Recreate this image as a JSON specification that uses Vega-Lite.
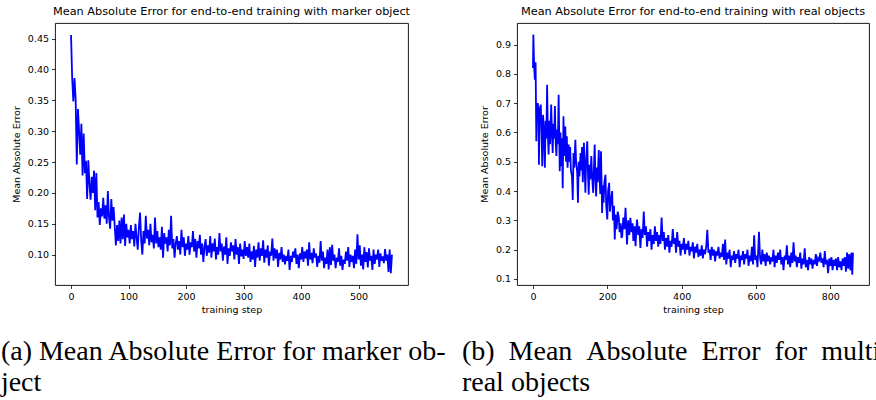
{
  "$schema": "https://vega.github.io/schema/vega-lite/v6.json",
  "padding": {"left": 0, "top": 5, "right": 0, "bottom": 0},
  "background": "white",
  "config": {
    "view": {"stroke": "#000000", "strokeWidth": 0.9},
    "axis": {"domain": false, "grid": false, "ticks": true, "tickColor": "#000000", "tickSize": 3.5, "tickWidth": 0.8, "labelFont": "DejaVu Sans", "labelFontSize": 9.5, "labelColor": "#000000", "labelPadding": 3, "titleFont": "DejaVu Sans", "titleFontSize": 9.5, "titleFontWeight": "normal", "titleColor": "#000000"},
    "axisY": {"titlePadding": 6},
    "axisX": {"titlePadding": 3},
    "title": {"font": "DejaVu Sans", "fontSize": 11.3, "fontWeight": "normal", "color": "#000000"}
  },
  "datasets": {
    "a": [
      {"step":0,"mae":0.456},{"step":2,"mae":0.385},{"step":4,"mae":0.348},{"step":6,"mae":0.386},{"step":8,"mae":0.352},{"step":10,"mae":0.246},{"step":12,"mae":0.336},{"step":14,"mae":0.300},{"step":16,"mae":0.262},{"step":18,"mae":0.312},
      {"step":20,"mae":0.228},{"step":22,"mae":0.296},{"step":24,"mae":0.232},{"step":26,"mae":0.252},{"step":28,"mae":0.190},{"step":30,"mae":0.253},{"step":32,"mae":0.215},{"step":34,"mae":0.189},{"step":36,"mae":0.226},{"step":38,"mae":0.200},
      {"step":40,"mae":0.236},{"step":42,"mae":0.172},{"step":44,"mae":0.232},{"step":46,"mae":0.160},{"step":48,"mae":0.185},{"step":50,"mae":0.148},{"step":52,"mae":0.175},{"step":54,"mae":0.162},{"step":56,"mae":0.192},{"step":58,"mae":0.158},
      {"step":60,"mae":0.180},{"step":62,"mae":0.150},{"step":64,"mae":0.203},{"step":66,"mae":0.160},{"step":68,"mae":0.142},{"step":70,"mae":0.190},{"step":72,"mae":0.155},{"step":74,"mae":0.177},{"step":76,"mae":0.145},{"step":78,"mae":0.115},
      {"step":80,"mae":0.148},{"step":82,"mae":0.122},{"step":84,"mae":0.155},{"step":86,"mae":0.118},{"step":88,"mae":0.160},{"step":90,"mae":0.125},{"step":92,"mae":0.165},{"step":94,"mae":0.114},{"step":96,"mae":0.150},{"step":98,"mae":0.128},
      {"step":100,"mae":0.140},{"step":102,"mae":0.118},{"step":104,"mae":0.148},{"step":106,"mae":0.125},{"step":108,"mae":0.138},{"step":110,"mae":0.113},{"step":112,"mae":0.150},{"step":114,"mae":0.128},{"step":116,"mae":0.108},{"step":118,"mae":0.145},
      {"step":120,"mae":0.168},{"step":122,"mae":0.122},{"step":124,"mae":0.100},{"step":126,"mae":0.138},{"step":128,"mae":0.118},{"step":130,"mae":0.163},{"step":132,"mae":0.126},{"step":134,"mae":0.140},{"step":136,"mae":0.115},{"step":138,"mae":0.150},
      {"step":140,"mae":0.120},{"step":142,"mae":0.132},{"step":144,"mae":0.110},{"step":146,"mae":0.160},{"step":148,"mae":0.118},{"step":150,"mae":0.138},{"step":152,"mae":0.112},{"step":154,"mae":0.128},{"step":156,"mae":0.108},{"step":158,"mae":0.145},
      {"step":160,"mae":0.095},{"step":162,"mae":0.135},{"step":164,"mae":0.118},{"step":166,"mae":0.128},{"step":168,"mae":0.105},{"step":170,"mae":0.140},{"step":172,"mae":0.115},{"step":174,"mae":0.163},{"step":176,"mae":0.110},{"step":178,"mae":0.125},
      {"step":180,"mae":0.095},{"step":182,"mae":0.118},{"step":184,"mae":0.130},{"step":186,"mae":0.108},{"step":188,"mae":0.122},{"step":190,"mae":0.100},{"step":192,"mae":0.140},{"step":194,"mae":0.112},{"step":196,"mae":0.128},{"step":198,"mae":0.098},
      {"step":200,"mae":0.118},{"step":202,"mae":0.108},{"step":204,"mae":0.130},{"step":206,"mae":0.100},{"step":208,"mae":0.120},{"step":210,"mae":0.112},{"step":212,"mae":0.138},{"step":214,"mae":0.105},{"step":216,"mae":0.125},{"step":218,"mae":0.095},
      {"step":220,"mae":0.122},{"step":222,"mae":0.110},{"step":224,"mae":0.132},{"step":226,"mae":0.100},{"step":228,"mae":0.118},{"step":230,"mae":0.088},{"step":232,"mae":0.112},{"step":234,"mae":0.125},{"step":236,"mae":0.098},{"step":238,"mae":0.115},
      {"step":240,"mae":0.103},{"step":242,"mae":0.130},{"step":244,"mae":0.095},{"step":246,"mae":0.118},{"step":248,"mae":0.105},{"step":250,"mae":0.126},{"step":252,"mae":0.092},{"step":254,"mae":0.112},{"step":256,"mae":0.100},{"step":258,"mae":0.135},
      {"step":260,"mae":0.105},{"step":262,"mae":0.118},{"step":264,"mae":0.090},{"step":266,"mae":0.113},{"step":268,"mae":0.100},{"step":270,"mae":0.128},{"step":272,"mae":0.085},{"step":274,"mae":0.110},{"step":276,"mae":0.098},{"step":278,"mae":0.120},
      {"step":280,"mae":0.105},{"step":282,"mae":0.115},{"step":284,"mae":0.092},{"step":286,"mae":0.125},{"step":288,"mae":0.100},{"step":290,"mae":0.112},{"step":292,"mae":0.085},{"step":294,"mae":0.118},{"step":296,"mae":0.097},{"step":298,"mae":0.108},
      {"step":300,"mae":0.093},{"step":302,"mae":0.122},{"step":304,"mae":0.098},{"step":306,"mae":0.112},{"step":308,"mae":0.095},{"step":310,"mae":0.118},{"step":312,"mae":0.088},{"step":314,"mae":0.105},{"step":316,"mae":0.092},{"step":318,"mae":0.114},
      {"step":320,"mae":0.080},{"step":322,"mae":0.108},{"step":324,"mae":0.095},{"step":326,"mae":0.120},{"step":328,"mae":0.090},{"step":330,"mae":0.110},{"step":332,"mae":0.098},{"step":334,"mae":0.123},{"step":336,"mae":0.087},{"step":338,"mae":0.108},
      {"step":340,"mae":0.095},{"step":342,"mae":0.115},{"step":344,"mae":0.082},{"step":346,"mae":0.105},{"step":348,"mae":0.098},{"step":350,"mae":0.126},{"step":352,"mae":0.090},{"step":354,"mae":0.110},{"step":356,"mae":0.094},{"step":358,"mae":0.108},
      {"step":360,"mae":0.080},{"step":362,"mae":0.103},{"step":364,"mae":0.092},{"step":366,"mae":0.112},{"step":368,"mae":0.088},{"step":370,"mae":0.100},{"step":372,"mae":0.084},{"step":374,"mae":0.098},{"step":376,"mae":0.090},{"step":378,"mae":0.108},
      {"step":380,"mae":0.075},{"step":382,"mae":0.098},{"step":384,"mae":0.088},{"step":386,"mae":0.105},{"step":388,"mae":0.095},{"step":390,"mae":0.110},{"step":392,"mae":0.085},{"step":394,"mae":0.100},{"step":396,"mae":0.078},{"step":398,"mae":0.102},
      {"step":400,"mae":0.092},{"step":402,"mae":0.112},{"step":404,"mae":0.088},{"step":406,"mae":0.105},{"step":408,"mae":0.094},{"step":410,"mae":0.108},{"step":412,"mae":0.082},{"step":414,"mae":0.120},{"step":416,"mae":0.092},{"step":418,"mae":0.103},
      {"step":420,"mae":0.086},{"step":422,"mae":0.110},{"step":424,"mae":0.095},{"step":426,"mae":0.102},{"step":428,"mae":0.080},{"step":430,"mae":0.098},{"step":432,"mae":0.087},{"step":434,"mae":0.122},{"step":436,"mae":0.090},{"step":438,"mae":0.105},
      {"step":440,"mae":0.078},{"step":442,"mae":0.095},{"step":444,"mae":0.085},{"step":446,"mae":0.108},{"step":448,"mae":0.076},{"step":450,"mae":0.112},{"step":452,"mae":0.083},{"step":454,"mae":0.116},{"step":456,"mae":0.090},{"step":458,"mae":0.100},
      {"step":460,"mae":0.078},{"step":462,"mae":0.095},{"step":464,"mae":0.088},{"step":466,"mae":0.110},{"step":468,"mae":0.082},{"step":470,"mae":0.098},{"step":472,"mae":0.075},{"step":474,"mae":0.092},{"step":476,"mae":0.085},{"step":478,"mae":0.105},
      {"step":480,"mae":0.090},{"step":482,"mae":0.112},{"step":484,"mae":0.080},{"step":486,"mae":0.100},{"step":488,"mae":0.088},{"step":490,"mae":0.098},{"step":492,"mae":0.078},{"step":494,"mae":0.108},{"step":496,"mae":0.085},{"step":498,"mae":0.133},
      {"step":500,"mae":0.092},{"step":502,"mae":0.115},{"step":504,"mae":0.082},{"step":506,"mae":0.100},{"step":508,"mae":0.076},{"step":510,"mae":0.112},{"step":512,"mae":0.088},{"step":514,"mae":0.104},{"step":516,"mae":0.079},{"step":518,"mae":0.110},
      {"step":520,"mae":0.090},{"step":522,"mae":0.098},{"step":524,"mae":0.075},{"step":526,"mae":0.108},{"step":528,"mae":0.085},{"step":530,"mae":0.100},{"step":532,"mae":0.092},{"step":534,"mae":0.108},{"step":536,"mae":0.080},{"step":538,"mae":0.102},
      {"step":540,"mae":0.090},{"step":542,"mae":0.097},{"step":544,"mae":0.086},{"step":546,"mae":0.109},{"step":548,"mae":0.090},{"step":550,"mae":0.100},{"step":552,"mae":0.072},{"step":554,"mae":0.108},{"step":556,"mae":0.070},{"step":558,"mae":0.100}
    ],
    "b": [
      {"step":0,"mae":0.82},{"step":1,"mae":0.934},{"step":3,"mae":0.83},{"step":5,"mae":0.78},{"step":7,"mae":0.84},{"step":9,"mae":0.57},{"step":11,"mae":0.69},{"step":13,"mae":0.70},{"step":15,"mae":0.66},{"step":16,"mae":0.49},
      {"step":18,"mae":0.68},{"step":21,"mae":0.695},{"step":23,"mae":0.60},{"step":25,"mae":0.485},{"step":27,"mae":0.66},{"step":29,"mae":0.62},{"step":32,"mae":0.48},{"step":34,"mae":0.64},{"step":36,"mae":0.58},{"step":38,"mae":0.763},
      {"step":40,"mae":0.60},{"step":42,"mae":0.525},{"step":44,"mae":0.64},{"step":46,"mae":0.56},{"step":49,"mae":0.695},{"step":51,"mae":0.60},{"step":53,"mae":0.53},{"step":55,"mae":0.63},{"step":57,"mae":0.58},{"step":59,"mae":0.69},
      {"step":61,"mae":0.57},{"step":63,"mae":0.52},{"step":65,"mae":0.61},{"step":67,"mae":0.56},{"step":69,"mae":0.729},{"step":72,"mae":0.468},{"step":74,"mae":0.60},{"step":76,"mae":0.485},{"step":78,"mae":0.58},{"step":80,"mae":0.41},
      {"step":82,"mae":0.655},{"step":84,"mae":0.52},{"step":87,"mae":0.62},{"step":89,"mae":0.50},{"step":91,"mae":0.587},{"step":93,"mae":0.48},{"step":96,"mae":0.559},{"step":98,"mae":0.50},{"step":100,"mae":0.55},{"step":102,"mae":0.47},
      {"step":105,"mae":0.45},{"step":107,"mae":0.37},{"step":109,"mae":0.53},{"step":111,"mae":0.48},{"step":114,"mae":0.575},{"step":116,"mae":0.50},{"step":119,"mae":0.462},{"step":121,"mae":0.36},{"step":123,"mae":0.50},{"step":125,"mae":0.45},
      {"step":128,"mae":0.53},{"step":130,"mae":0.47},{"step":132,"mae":0.55},{"step":134,"mae":0.43},{"step":137,"mae":0.565},{"step":139,"mae":0.48},{"step":141,"mae":0.394},{"step":143,"mae":0.50},{"step":146,"mae":0.57},{"step":148,"mae":0.46},
      {"step":150,"mae":0.388},{"step":152,"mae":0.49},{"step":154,"mae":0.44},{"step":157,"mae":0.52},{"step":159,"mae":0.45},{"step":162,"mae":0.394},{"step":164,"mae":0.48},{"step":166,"mae":0.559},{"step":168,"mae":0.44},{"step":170,"mae":0.382},
      {"step":172,"mae":0.48},{"step":174,"mae":0.43},{"step":177,"mae":0.54},{"step":179,"mae":0.45},{"step":181,"mae":0.39},{"step":183,"mae":0.536},{"step":186,"mae":0.325},{"step":188,"mae":0.42},{"step":190,"mae":0.36},{"step":192,"mae":0.43},
      {"step":195,"mae":0.456},{"step":197,"mae":0.35},{"step":200,"mae":0.303},{"step":202,"mae":0.40},{"step":205,"mae":0.428},{"step":207,"mae":0.33},{"step":210,"mae":0.37},{"step":213,"mae":0.40},{"step":215,"mae":0.30},{"step":218,"mae":0.35},
      {"step":220,"mae":0.235},{"step":222,"mae":0.32},{"step":225,"mae":0.27},{"step":228,"mae":0.33},{"step":231,"mae":0.309},{"step":233,"mae":0.26},{"step":236,"mae":0.29},{"step":238,"mae":0.24},{"step":240,"mae":0.246},{"step":243,"mae":0.31},
      {"step":246,"mae":0.27},{"step":249,"mae":0.343},{"step":251,"mae":0.28},{"step":253,"mae":0.218},{"step":256,"mae":0.30},{"step":259,"mae":0.25},{"step":262,"mae":0.309},{"step":265,"mae":0.26},{"step":268,"mae":0.29},{"step":270,"mae":0.23},
      {"step":273,"mae":0.28},{"step":276,"mae":0.212},{"step":278,"mae":0.27},{"step":280,"mae":0.303},{"step":283,"mae":0.25},{"step":286,"mae":0.28},{"step":289,"mae":0.206},{"step":292,"mae":0.27},{"step":295,"mae":0.24},{"step":298,"mae":0.33},
      {"step":301,"mae":0.25},{"step":304,"mae":0.28},{"step":307,"mae":0.21},{"step":310,"mae":0.26},{"step":313,"mae":0.23},{"step":316,"mae":0.27},{"step":319,"mae":0.20},{"step":322,"mae":0.25},{"step":325,"mae":0.22},{"step":328,"mae":0.28},
      {"step":331,"mae":0.23},{"step":334,"mae":0.26},{"step":337,"mae":0.21},{"step":340,"mae":0.25},{"step":343,"mae":0.22},{"step":346,"mae":0.31},{"step":349,"mae":0.23},{"step":352,"mae":0.26},{"step":355,"mae":0.20},{"step":358,"mae":0.24},
      {"step":361,"mae":0.21},{"step":364,"mae":0.25},{"step":367,"mae":0.19},{"step":370,"mae":0.23},{"step":373,"mae":0.21},{"step":376,"mae":0.27},{"step":379,"mae":0.22},{"step":382,"mae":0.24},{"step":385,"mae":0.19},{"step":388,"mae":0.26},
      {"step":391,"mae":0.21},{"step":394,"mae":0.23},{"step":397,"mae":0.18},{"step":400,"mae":0.22},{"step":403,"mae":0.20},{"step":406,"mae":0.24},{"step":409,"mae":0.185},{"step":412,"mae":0.22},{"step":415,"mae":0.20},{"step":418,"mae":0.23},
      {"step":421,"mae":0.18},{"step":424,"mae":0.21},{"step":427,"mae":0.195},{"step":430,"mae":0.225},{"step":433,"mae":0.17},{"step":436,"mae":0.21},{"step":439,"mae":0.19},{"step":442,"mae":0.22},{"step":445,"mae":0.175},{"step":448,"mae":0.20},
      {"step":451,"mae":0.18},{"step":454,"mae":0.215},{"step":457,"mae":0.17},{"step":460,"mae":0.20},{"step":463,"mae":0.185},{"step":466,"mae":0.21},{"step":469,"mae":0.268},{"step":472,"mae":0.19},{"step":475,"mae":0.20},{"step":478,"mae":0.165},
      {"step":481,"mae":0.21},{"step":484,"mae":0.18},{"step":487,"mae":0.20},{"step":490,"mae":0.16},{"step":493,"mae":0.195},{"step":496,"mae":0.18},{"step":499,"mae":0.21},{"step":502,"mae":0.17},{"step":505,"mae":0.19},{"step":508,"mae":0.175},
      {"step":511,"mae":0.22},{"step":514,"mae":0.165},{"step":517,"mae":0.235},{"step":520,"mae":0.15},{"step":523,"mae":0.19},{"step":526,"mae":0.17},{"step":529,"mae":0.20},{"step":532,"mae":0.14},{"step":535,"mae":0.18},{"step":538,"mae":0.165},
      {"step":541,"mae":0.195},{"step":544,"mae":0.155},{"step":547,"mae":0.185},{"step":550,"mae":0.17},{"step":553,"mae":0.20},{"step":556,"mae":0.14},{"step":559,"mae":0.18},{"step":562,"mae":0.165},{"step":565,"mae":0.195},{"step":568,"mae":0.15},
      {"step":571,"mae":0.185},{"step":574,"mae":0.17},{"step":577,"mae":0.20},{"step":580,"mae":0.145},{"step":583,"mae":0.18},{"step":586,"mae":0.16},{"step":589,"mae":0.21},{"step":592,"mae":0.15},{"step":595,"mae":0.249},{"step":598,"mae":0.165},
      {"step":601,"mae":0.18},{"step":604,"mae":0.14},{"step":606,"mae":0.20},{"step":608,"mae":0.261},{"step":611,"mae":0.17},{"step":614,"mae":0.15},{"step":617,"mae":0.20},{"step":620,"mae":0.16},{"step":623,"mae":0.185},{"step":626,"mae":0.145},
      {"step":629,"mae":0.19},{"step":632,"mae":0.16},{"step":635,"mae":0.18},{"step":638,"mae":0.15},{"step":641,"mae":0.175},{"step":644,"mae":0.16},{"step":647,"mae":0.20},{"step":650,"mae":0.14},{"step":653,"mae":0.18},{"step":656,"mae":0.155},
      {"step":659,"mae":0.19},{"step":662,"mae":0.165},{"step":665,"mae":0.20},{"step":668,"mae":0.15},{"step":671,"mae":0.175},{"step":674,"mae":0.13},{"step":677,"mae":0.18},{"step":680,"mae":0.165},{"step":683,"mae":0.215},{"step":686,"mae":0.15},
      {"step":689,"mae":0.18},{"step":692,"mae":0.14},{"step":695,"mae":0.19},{"step":698,"mae":0.155},{"step":701,"mae":0.225},{"step":704,"mae":0.16},{"step":707,"mae":0.18},{"step":710,"mae":0.14},{"step":713,"mae":0.175},{"step":716,"mae":0.155},
      {"step":719,"mae":0.19},{"step":722,"mae":0.135},{"step":725,"mae":0.17},{"step":728,"mae":0.15},{"step":731,"mae":0.205},{"step":734,"mae":0.14},{"step":737,"mae":0.165},{"step":740,"mae":0.13},{"step":743,"mae":0.175},{"step":746,"mae":0.15},
      {"step":749,"mae":0.17},{"step":752,"mae":0.135},{"step":755,"mae":0.165},{"step":758,"mae":0.15},{"step":761,"mae":0.185},{"step":764,"mae":0.145},{"step":767,"mae":0.17},{"step":770,"mae":0.16},{"step":773,"mae":0.19},{"step":776,"mae":0.155},
      {"step":779,"mae":0.17},{"step":782,"mae":0.14},{"step":785,"mae":0.195},{"step":788,"mae":0.15},{"step":791,"mae":0.165},{"step":794,"mae":0.12},{"step":797,"mae":0.17},{"step":800,"mae":0.145},{"step":803,"mae":0.175},{"step":806,"mae":0.13},
      {"step":809,"mae":0.165},{"step":812,"mae":0.145},{"step":815,"mae":0.17},{"step":818,"mae":0.13},{"step":821,"mae":0.175},{"step":824,"mae":0.14},{"step":827,"mae":0.16},{"step":830,"mae":0.13},{"step":833,"mae":0.17},{"step":836,"mae":0.145},
      {"step":839,"mae":0.175},{"step":842,"mae":0.125},{"step":845,"mae":0.19},{"step":848,"mae":0.135},{"step":851,"mae":0.185},{"step":854,"mae":0.13},{"step":857,"mae":0.19},{"step":859,"mae":0.115},{"step":861,"mae":0.19}
    ]
  },
  "spacing": 13,
  "hconcat": [
    {
      "title": {"text": ["(a) Mean Absolute Error for marker ob-", "ject"], "orient": "bottom", "anchor": "start", "font": "Liberation Serif", "fontSize": 28, "lineHeight": 31, "fontWeight": "normal", "color": "#000000", "offset": 24, "dx": -10},
      "vconcat": [
        {
          "title": {"text": "Mean Absolute Error for end-to-end training with marker object", "anchor": "middle", "offset": 6},
          "width": 353,
          "height": 262,
          "data": {"name": "a"},
          "mark": {"type": "line", "color": "#0000ff", "strokeWidth": 1.8, "clip": true},
          "encoding": {
            "x": {"field": "step", "type": "quantitative", "scale": {"domain": [-27.9, 585.9], "nice": false, "zero": false}, "axis": {"title": "training step", "values": [0, 100, 200, 300, 400, 500]}},
            "y": {"field": "mae", "type": "quantitative", "scale": {"domain": [0.0507, 0.4753], "nice": false, "zero": false}, "axis": {"title": "Mean Absolute Error", "values": [0.10, 0.15, 0.20, 0.25, 0.30, 0.35, 0.40, 0.45], "format": ".2f"}}
          }
        }
      ]
    },
    {
      "title": {"text": ["(b)\u00a0\u00a0Mean\u00a0\u00a0Absolute\u00a0\u00a0Error\u00a0\u00a0for\u00a0\u00a0multiple", "real objects"], "orient": "bottom", "anchor": "start", "font": "Liberation Serif", "fontSize": 28, "lineHeight": 31, "fontWeight": "normal", "color": "#000000", "offset": 24, "dx": -17},
      "vconcat": [
        {
          "title": {"text": "Mean Absolute Error for end-to-end training with real objects", "anchor": "middle", "offset": 6},
          "width": 352,
          "height": 262,
          "data": {"name": "b"},
          "mark": {"type": "line", "color": "#0000ff", "strokeWidth": 1.8, "clip": true},
          "encoding": {
            "x": {"field": "step", "type": "quantitative", "scale": {"domain": [-43, 904], "nice": false, "zero": false}, "axis": {"title": "training step", "values": [0, 200, 400, 600, 800]}},
            "y": {"field": "mae", "type": "quantitative", "scale": {"domain": [0.0795, 0.9736], "nice": false, "zero": false}, "axis": {"title": "Mean Absolute Error", "values": [0.1, 0.2, 0.3, 0.4, 0.5, 0.6, 0.7, 0.8, 0.9], "format": ".1f"}}
          }
        }
      ]
    }
  ]
}
